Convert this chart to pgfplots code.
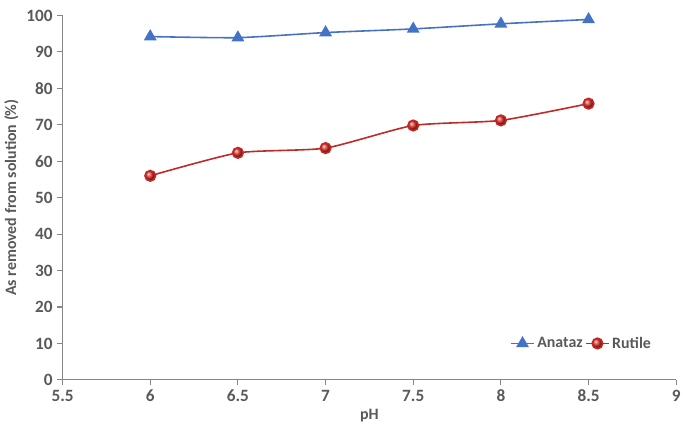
\documentclass[border=0pt]{standalone}
\usepackage{fontspec}
\setmainfont{Carlito}
\usepackage{pgfplots}
\pgfplotsset{compat=1.18}
\definecolor{ctext}{RGB}{89,89,89}
\definecolor{caxis}{RGB}{134,134,134}
\definecolor{canat}{RGB}{68,114,196}
\definecolor{crut}{RGB}{192,42,38}
\definecolor{cball}{RGB}{225,45,40}
\begin{document}
\begin{tikzpicture}[font=\bfseries]
\begin{axis}[
  scale only axis, width=463pt, height=275pt,
  xmin=5.5, xmax=9, ymin=0, ymax=100,
  xtick={5.5,6,...,9}, ytick={0,10,...,100},
  axis lines*=left, axis line style={caxis, line width=0.8pt},
  tick style={caxis, line width=0.8pt}, tick align=outside,
  major tick length=4pt,
  ticklabel style={font=\fontsize{13}{15}\selectfont\bfseries, text=ctext},
  /pgf/number format/assume math mode=true,
  xticklabel={\pgfmathprintnumber[fixed]{\tick}},
  xlabel={pH}, ylabel={As removed from solution (\%)},
  label style={font=\fontsize{12}{14}\selectfont\bfseries, text=ctext},
  xlabel style={yshift=1pt}, ylabel style={yshift=-1pt},
  legend style={at={(0.97,0.1)}, anchor=east, draw=none, fill=none,
    font=\fontsize{12}{14}\selectfont\bfseries, text=ctext},
  legend columns=2, legend cell align=left,
  every axis plot/.append style={line width=1.2pt, smooth, tension=0.35},
  clip=false,
]
\addplot[canat, mark=triangle*, mark size=4.4pt, mark options={fill=canat}] coordinates {
  (6,94.2) (6.5,93.9) (7,95.3) (7.5,96.3) (8,97.7) (8.5,98.9)
};
\addlegendentry{Anataz}
\addplot[crut, mark=ball, mark size=4pt, mark options={ball color=cball}] coordinates {
  (6,56.0) (6.5,62.3) (7,63.6) (7.5,69.8) (8,71.2) (8.5,75.8)
};
\addlegendentry{Rutile}
\end{axis}
\path (current bounding box.north) ++(0,4pt) coordinate (topgap);
\end{tikzpicture}
\end{document}
